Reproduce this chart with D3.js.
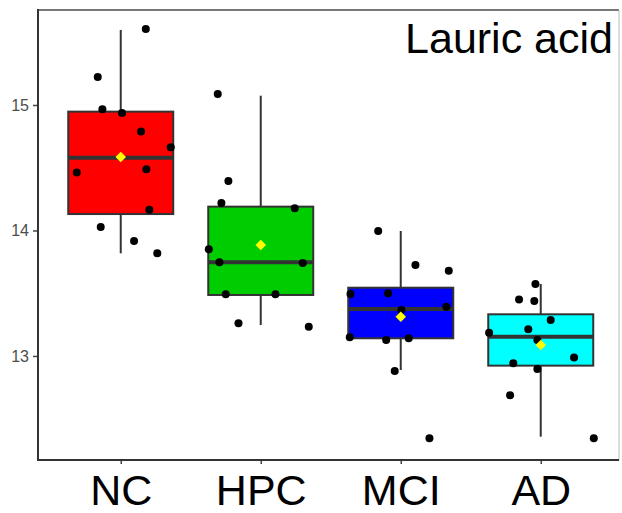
<!DOCTYPE html>
<html>
<head>
<meta charset="utf-8">
<script src="https://cdn.jsdelivr.net/npm/d3@7"></script>
<style>
  body { margin: 0; background: #fff; }
  svg { display: block; font-family: "Liberation Sans", Arial, sans-serif; }
</style>
</head>
<body>
<div id="chart"></div>
<script>
// groups and summary stats
const groups = ['NC', 'HPC', 'MCI', 'AD'];
const q1 = [14.131, 13.486, 13.141, 12.923];
const medians = [14.58, 13.747, 13.375, 13.154];
const q3 = [14.947, 14.19, 13.544, 13.332];
const whiskerLow = [13.818, 13.247, 12.888, 12.357];
const whiskerHigh = [15.598, 15.074, 13.996, 13.574];
const means = [14.586, 13.884, 13.313, 13.088];

// individual samples (value) and their horizontal jitter (in group units)
const pointValues = [
    [15.606, 15.223, 14.966, 14.936, 14.788, 14.663, 14.463, 14.488, 14.166, 14.028, 13.916, 13.818],
    [15.088, 14.394, 14.219, 14.177, 13.85, 13.747, 13.741, 13.492, 13.492, 13.26, 13.233],
    [13.996, 13.725, 13.68, 13.494, 13.5, 13.367, 13.393, 13.149, 13.127, 13.141, 12.88, 12.344],
    [13.574, 13.45, 13.438, 13.287, 13.186, 13.213, 13.127, 12.942, 12.987, 12.896, 12.687, 12.344]
];
const pointJitter = [
    [0.179, -0.164, -0.131, 0.009, 0.145, 0.357, -0.314, 0.183, 0.204, -0.143, 0.095, 0.261],
    [-0.307, -0.231, -0.281, 0.243, -0.371, -0.295, 0.3, -0.25, 0.105, -0.159, 0.343],
    [-0.161, 0.105, 0.343, -0.359, -0.09, 0.005, 0.326, -0.364, -0.104, 0.057, -0.043, 0.205],
    [-0.038, -0.155, -0.046, 0.071, -0.369, -0.089, -0.024, -0.196, 0.238, -0.024, -0.219, 0.379]
];
const yTicks = [13, 14, 15];
const title = 'Lauric acid';

const width = 622;
const height = 513;
const panel = {left: 38, right: 619, top: 10, bottom: 460};
const boxWidth = 0.75;

const fills = d3.scaleOrdinal().domain(groups).range(['#FF0000', '#00CD00', '#0000FF', '#00FFFF']);

const x = d3.scaleLinear().domain([0.409, 4.559]).range([panel.left, panel.right]);
const y = d3.scaleLinear().domain([12.171, 15.757]).range([panel.bottom, panel.top]);
const pos = i => x(i + 1);

const svg = d3.select('#chart').append('svg')
    .attr('width', width)
    .attr('height', height);

// panel frame
svg.append('line')
    .attr('x1', panel.left).attr('x2', panel.right)
    .attr('y1', panel.top).attr('y2', panel.top)
    .attr('stroke', '#777').attr('stroke-width', 2);
svg.append('line')
    .attr('x1', panel.right).attr('x2', panel.right)
    .attr('y1', panel.top).attr('y2', panel.bottom)
    .attr('stroke', '#bbb').attr('stroke-width', 1);

// whiskers
svg.selectAll('.whisker')
    .data(groups)
    .enter()
    .append('line')
    .attr('class', 'whisker')
    .attr('x1', (d, i) => pos(i)).attr('x2', (d, i) => pos(i))
    .attr('y1', (d, i) => y(whiskerLow[i]))
    .attr('y2', (d, i) => y(whiskerHigh[i]))
    .attr('stroke', '#333').attr('stroke-width', 2);

// boxes
const halfW = x(1 + boxWidth / 2) - x(1);
svg.selectAll('.box')
    .data(groups)
    .enter()
    .append('rect')
    .attr('class', 'box')
    .attr('x', (d, i) => pos(i) - halfW)
    .attr('width', halfW * 2)
    .attr('y', (d, i) => y(q3[i]))
    .attr('height', (d, i) => y(q1[i]) - y(q3[i]))
    .attr('fill', d => fills(d))
    .attr('stroke', '#333').attr('stroke-width', 2);

svg.selectAll('.median')
    .data(groups)
    .enter()
    .append('line')
    .attr('class', 'median')
    .attr('x1', (d, i) => pos(i) - halfW).attr('x2', (d, i) => pos(i) + halfW)
    .attr('y1', (d, i) => y(medians[i])).attr('y2', (d, i) => y(medians[i]))
    .attr('stroke', '#333').attr('stroke-width', 4);

// jittered points
const pts = [];
pointValues.forEach((vals, g) => {
    vals.forEach((v, k) => pts.push({g: g, v: v, dx: pointJitter[g][k]}));
});
svg.selectAll('.pt')
    .data(pts)
    .enter()
    .append('circle')
    .attr('class', 'pt')
    .attr('cx', d => x(d.g + 1 + d.dx))
    .attr('cy', d => y(d.v))
    .attr('r', 4)
    .attr('fill', '#000');

// mean diamonds
svg.selectAll('.mean')
    .data(groups)
    .enter()
    .append('path')
    .attr('class', 'mean')
    .attr('d', d3.symbol().type(d3.symbolDiamond2).size(70))
    .attr('transform', (d, i) => 'translate(' + pos(i) + ',' + y(means[i]) + ')')
    .attr('fill', '#FFFF00');

// y axis
const yAxis = svg.append('g')
    .attr('transform', 'translate(' + panel.left + ',0)')
    .call(d3.axisLeft(y).tickValues(yTicks).tickSize(5).tickPadding(4).tickFormat(d3.format('d')));
yAxis.select('.domain').remove();
yAxis.selectAll('.tick line').attr('stroke', '#444').attr('stroke-width', 1.5);
yAxis.selectAll('.tick text').attr('fill', '#4d4d4d').style('font-size', '16px');
svg.append('line')
    .attr('x1', panel.left).attr('x2', panel.left)
    .attr('y1', panel.top - 1).attr('y2', panel.bottom + 1)
    .attr('stroke', '#333').attr('stroke-width', 2);

// x axis
const xAxis = svg.append('g')
    .attr('transform', 'translate(0,' + panel.bottom + ')')
    .call(d3.axisBottom(x).tickValues(groups.map((d, i) => i + 1)).tickSize(4).tickPadding(10)
        .tickFormat((d, i) => groups[i]));
xAxis.select('.domain').remove();
xAxis.selectAll('.tick line').attr('stroke', '#444').attr('stroke-width', 1.5);
xAxis.selectAll('.tick text').attr('fill', '#000').style('font-size', '43px');
svg.append('line')
    .attr('x1', panel.left - 1).attr('x2', panel.right)
    .attr('y1', panel.bottom).attr('y2', panel.bottom)
    .attr('stroke', '#333').attr('stroke-width', 2);

// title inside panel
svg.append('text')
    .attr('x', 613)
    .attr('y', 53)
    .attr('text-anchor', 'end')
    .style('font-size', '43px')
    .attr('fill', '#000')
    .text(title);
</script>
</body>
</html>
